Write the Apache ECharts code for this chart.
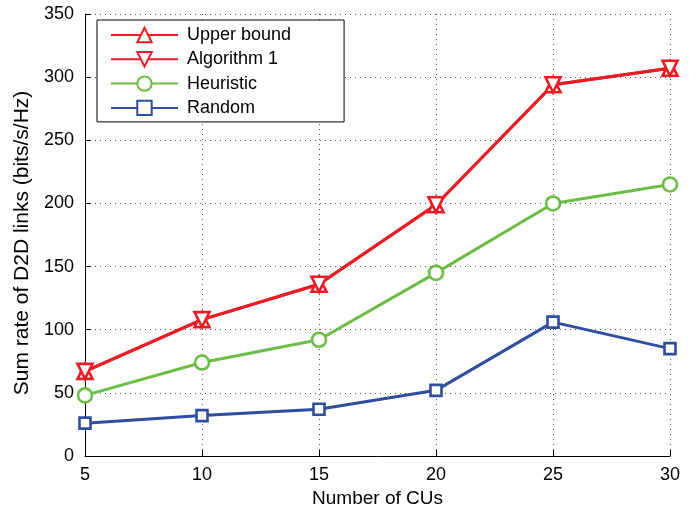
<!DOCTYPE html>
<html><head><meta charset="utf-8">
<script src="https://cdn.jsdelivr.net/npm/echarts@6/dist/echarts.min.js"></script>
<style>html,body{margin:0;padding:0;background:#fff}#c{width:699px;height:515px}</style>
</head><body><div id="c"></div>
<script>
var categories = [5, 10, 15, 20, 25, 30];
var upperBound = [67, 108, 136, 199, 294, 307];
var algorithm1 = [67, 108, 136, 199, 294, 307];
var heuristic = [48, 74, 92, 145, 200, 215];
var randomS = [26, 32, 37, 52, 106, 85];
var yTicks = [0, 50, 100, 150, 200, 250, 300, 350];

var RED = '#ec1c24', GREEN = '#6cbd45', BLUE = '#2f4ea2';
var font = 'Liberation Sans, Arial, Helvetica, sans-serif';
function pairs(arr){ return arr.map(function(v,i){ return [categories[i], v]; }); }
function ser(name, data, color, symbol, rot, size){
  return {name:name, type:'line', data:pairs(data), symbol:symbol, symbolSize:size, symbolRotate:rot,
    lineStyle:{color:color, width:3}, itemStyle:{color:'#fff', borderColor:color, borderWidth:2.6},
    showAllSymbol:true, z: 3};
}
var chart = echarts.init(document.getElementById('c'));
chart.setOption({
  animation:false,
  textStyle:{fontFamily:font},
  grid:{left:85, right:29, top:14, bottom:59, outerBoundsMode:'none', containLabel:false},
  legend:{left:97, top:20, orient:'vertical', itemWidth:67, itemHeight:18, itemGap:6.3,
    padding:[6,53,5,13], borderColor:'#000', borderWidth:1, backgroundColor:'#fff',
    textStyle:{fontSize:18, color:'#000', fontFamily:font, lineHeight:18, padding:[0,0,0,4]},
    data:['Upper bound','Algorithm 1','Heuristic','Random']},
  xAxis:{type:'value', min:5, max:30, interval:5, name:'Number of CUs', nameLocation:'middle', nameGap:32,
    nameTextStyle:{fontSize:19, color:'#000'},
    axisLine:{lineStyle:{color:'#000', width:1}}, axisTick:{inside:true, length:6, lineStyle:{color:'#000'}},
    axisLabel:{fontSize:18, color:'#000', margin:10},
    splitLine:{show:true, lineStyle:{color:'#555', type:[1,4], width:1}}},
  yAxis:{type:'value', min:0, max:350, interval:50, name:'Sum rate of D2D links (bits/s/Hz)', nameLocation:'middle', nameGap:52,
    nameTextStyle:{fontSize:21, color:'#000', padding:[0,16,0,0]},
    axisLine:{show:true, lineStyle:{color:'#000', width:1}}, axisTick:{show:true, inside:true, length:6, lineStyle:{color:'#000'}},
    axisLabel:{fontSize:18, color:'#000', margin:11, formatter:function(v){ return yTicks.indexOf(v)>=0 ? String(v) : ''; }},
    splitLine:{show:true, lineStyle:{color:'#555', type:[1,4], width:1}}},
  series:[
    ser('Upper bound', upperBound, RED, 'triangle', 0, 15),
    ser('Algorithm 1', algorithm1, RED, 'triangle', 180, 15),
    ser('Heuristic', heuristic, GREEN, 'circle', 0, 14),
    ser('Random', randomS, BLUE, 'rect', 0, 11)
  ]
});
</script></body></html>
